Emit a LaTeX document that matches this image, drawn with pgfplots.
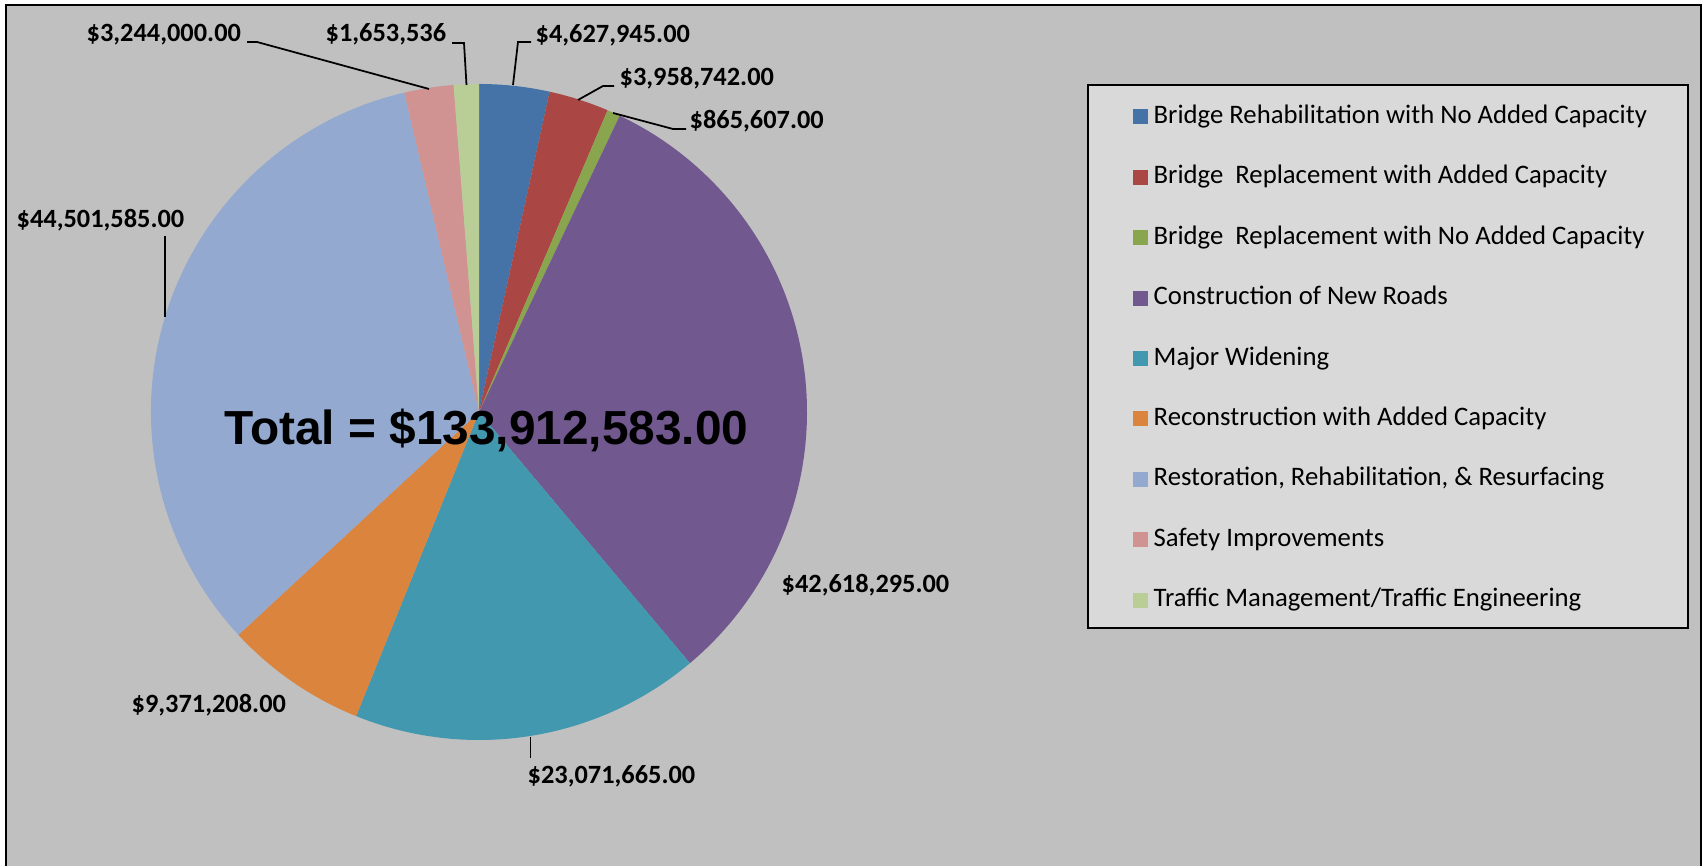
\documentclass[border=0pt]{standalone}
\usepackage{fontspec}
\setmainfont{Carlito}
\newfontfamily\titlefont{Liberation Sans}
\usepackage{pgfplots}
\usepackage{pgfplotstable}
\pgfplotsset{compat=1.18}

\definecolor{pie0}{RGB}{69,114,167}
\definecolor{pie1}{RGB}{170,70,67}
\definecolor{pie2}{RGB}{137,165,78}
\definecolor{pie3}{RGB}{113,88,143}
\definecolor{pie4}{RGB}{65,152,175}
\definecolor{pie5}{RGB}{219,132,61}
\definecolor{pie6}{RGB}{147,169,207}
\definecolor{pie7}{RGB}{209,147,146}
\definecolor{pie8}{RGB}{185,205,150}
\definecolor{bggray}{RGB}{192,192,192}
\definecolor{leggray}{RGB}{217,217,217}

\pgfplotstableread{
value
4627945
3958742
865607
42618295
23071665
9371208
44501585
3244000
1653536
}\piedata

\begin{document}
\begin{tikzpicture}
% cumulative angles (clockwise from 12 o'clock)
\gdef\pietotal{0}
\pgfplotsforeachungrouped \i in {0,...,8}{%
  \pgfplotstablegetelem{\i}{value}\of\piedata
  \xdef\pietotal{\fpeval{\pietotal+\pgfplotsretval}}}
\gdef\cumangle{90}
\pgfplotsforeachungrouped \i in {0,...,8}{%
  \pgfplotstablegetelem{\i}{value}\of\piedata
  \expandafter\xdef\csname pieA\i\endcsname{\cumangle}%
  \xdef\cumangle{\fpeval{round(\cumangle-360*\pgfplotsretval/\pietotal,4)}}%
  \expandafter\xdef\csname pieB\i\endcsname{\cumangle}}
\begin{axis}[
  name=ax,
  scale only axis, width=17.03cm, height=8.66cm,
  xmin=0, xmax=1703, ymin=0, ymax=866,
  hide axis, clip=false,
  legend style={at={(1132/1703,780/866)}, anchor=north west, draw=none, fill=none,
    inner sep=0pt, row sep=0pt, font=\fontsize{7.6}{9}\selectfont,
    nodes={inner sep=0pt, minimum height=0.604cm}},
  legend cell align=left,
  legend image code/.code={\fill[#1] (0cm,-0.075cm) rectangle (0.15cm,0.075cm);},
  /tikz/every odd column/.append style={column sep=0.06cm},
  legend entries={
    {Bridge Rehabilitation with No Added Capacity},
    {Bridge\ \ Replacement with Added Capacity},
    {Bridge\ \ Replacement with No Added Capacity},
    {Construction of New Roads},
    {Major Widening},
    {Reconstruction with Added Capacity},
    {Restoration, Rehabilitation, \& Resurfacing},
    {Safety Improvements},
    {Traffic Management/Traffic Engineering}},
]
\fill[white] (axis cs:0,0) rectangle (axis cs:1703,866);
\fill[bggray] (axis cs:6,0) rectangle (axis cs:1701,861);
\draw[line width=0.6pt] (axis cs:6,0) -- (axis cs:6,861) -- (axis cs:1701,861) -- (axis cs:1701,0);
\draw[line width=0.6pt, fill=leggray] (axis cs:1088,781) rectangle (axis cs:1688,238);

\pgfplotsforeachungrouped \i in {0,...,8}{%
  \edef\pieplot{\noexpand\addplot[fill=pie\i, draw=none] coordinates {(479,454)} -- ++(\csname pieB\i\endcsname:3.28cm) arc[start angle=\csname pieB\i\endcsname, end angle=\csname pieA\i\endcsname, radius=3.28cm] -- cycle;}%
  \pieplot
}

% leader lines
\draw[line width=0.5pt] (axis cs:513,781) -- (axis cs:518,824) -- (axis cs:531,824);
\draw[line width=0.5pt] (axis cs:578,766) -- (axis cs:603,780) -- (axis cs:614,780);
\draw[line width=0.5pt] (axis cs:613,753) -- (axis cs:673,737) -- (axis cs:686,737);
\draw[line width=0.5pt] (axis cs:452,823) -- (axis cs:464,823) -- (axis cs:466.5,781);
\draw[line width=0.5pt] (axis cs:247,824) -- (axis cs:257,824) -- (axis cs:429,777);
\draw[line width=0.5pt] (axis cs:165,630) -- (axis cs:165,549);
\draw[line width=0.5pt] (axis cs:530.6,129) -- (axis cs:530.6,108);

% data labels
\tikzset{lab/.style={anchor=base west, inner sep=0pt, font=\fontsize{7.5}{9}\selectfont\bfseries}}
\node[lab] at (axis cs:535,823) {\$4,627,945.00};
\node[lab] at (axis cs:619,780) {\$3,958,742.00};
\node[lab] at (axis cs:689,737) {\$865,607.00};
\node[lab] at (axis cs:325,824) {\$1,653,536};
\node[lab] at (axis cs:86,824) {\$3,244,000.00};
\node[lab] at (axis cs:16,638) {\$44,501,585.00};
\node[lab] at (axis cs:781,273) {\$42,618,295.00};
\node[lab] at (axis cs:131,153) {\$9,371,208.00};
\node[lab] at (axis cs:527,82) {\$23,071,665.00};

\node[anchor=base, inner sep=0pt, font=\titlefont\fontsize{13.6}{16}\selectfont\bfseries] at (axis cs:486.5,421) {Total = \$133,912,583.00};
\end{axis}
\pgfresetboundingbox
\path (ax.south west) rectangle (ax.north east);
\end{tikzpicture}
\end{document}
